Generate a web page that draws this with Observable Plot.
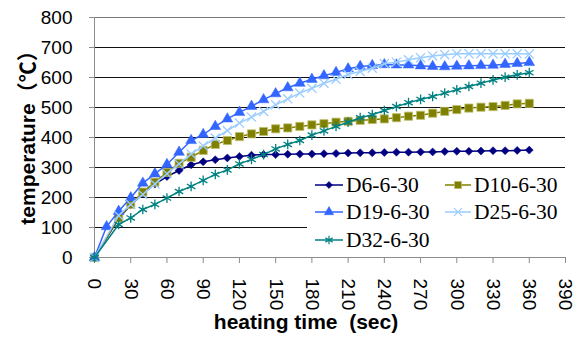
<!DOCTYPE html>
<html><head><meta charset="utf-8">
<script src="https://cdn.jsdelivr.net/npm/d3@7"></script>
<script src="https://cdn.jsdelivr.net/npm/@observablehq/plot@0.6"></script>
<style>
body{margin:0;background:#fff}
#wrap{position:relative;width:584px;height:341px;background:#fff}
#legend{position:absolute;left:307px;top:168px;width:258px;height:87px;background:#fff;font-family:"Liberation Serif","Times New Roman",serif;font-size:21.5px;color:#000}
.item{position:absolute;display:flex;align-items:center;height:26px;line-height:26px;white-space:nowrap}
.item svg{display:block;margin-right:3px}
</style></head><body><div id="wrap"></div>
<script>
// time axis (sec)
const timesD19 = [0,10,20,30,40,50,60,70,80,90,100,110,120,130,140,150,160,170,180,190,200,210,220,230,240,250,260,270,280,290,300,310,320,330,340,350,360];
const timesOther = [0,20,30,40,50,60,70,80,90,100,110,120,130,140,150,160,170,180,190,200,210,220,230,240,250,260,270,280,290,300,310,320,330,340,350,360];

// temperatures (°C)
const D6  = [0,130,175,212,245,270,290,309,319,326,332,337,341,343,343,344,345,345,346,347,348,349,349,350,351,351,352,352,353,354,354,355,356,356,357,358];
const D10 = [0,132,177,218,251,284,314,334,357,377,390,403,412,420,429,432,437,442,446,451,454,457,460,462,466,471,474,481,487,493,498,501,503,507,512,514];
const D19 = [0,103,154,199,248,279,310,351,390,410,437,462,484,504,526,546,566,581,594,606,617,629,637,640,643,642,642,639,637,636,638,639,640,641,644,647,650];
const D25 = [0,140,177,210,245,279,312,345,372,398,423,448,468,487,509,529,548,564,581,594,610,620,631,646,651,659,666,672,676,679,679,679,679,679,679,678];
const D32 = [0,110,132,160,177,198,220,237,257,277,292,312,327,343,362,377,390,408,422,437,451,466,476,490,503,516,527,537,548,559,570,581,592,601,609,616];

const seriesNames = ["D6-6-30","D10-6-30","D19-6-30","D25-6-30","D32-6-30"];
const xTicks = [0,30,60,90,120,150,180,210,240,270,300,330,360,390];
const yTicks = [0,100,200,300,400,500,600,700,800];
const xTitle = "heating time  (sec)";
const yTitle = "temperature（℃）";

const styles = [
  {color:"#000080", symbol:"diamond2", d3sym:d3.symbolDiamond2, filled:true, r:3.6},
  {color:"#808000", symbol:"square", d3sym:d3.symbolSquare, filled:true, r:4.6, edge:"#c0c070"},
  {color:"#3366FF", symbol:"triangle", d3sym:d3.symbolTriangle, filled:true, r:4.0},
  {color:"#99CCFF", symbol:"times", d3sym:d3.symbolTimes, filled:false, r:4.2},
  {color:"#008080", symbol:"asterisk", d3sym:d3.symbolAsterisk, filled:false, r:4.6}
];
const seriesData = [
  [timesOther, D6], [timesOther, D10], [timesD19, D19], [timesOther, D25], [timesOther, D32]
].map(([ts, vs], i) => ts.map((t, j) => ({t, v: vs[j], s: seriesNames[i]})));

const seriesMarks = seriesData.flatMap((rows, i) => {
  const st = styles[i];
  return [
    Plot.line(rows, {x: "t", y: "v", stroke: st.color, strokeWidth: 1.5}),
    Plot.dot(rows, {
      x: "t", y: "v", symbol: st.symbol, r: st.r,
      fill: st.filled ? st.color : "none",
      stroke: st.filled ? (st.edge || st.color) : st.color,
      strokeWidth: st.filled ? (st.edge ? 0.8 : 0.5) : 1.3
    })
  ];
});

const chart = Plot.plot({
  width: 584, height: 341,
  marginLeft: 94, marginRight: 19, marginTop: 17, marginBottom: 84,
  style: {fontFamily: "'Liberation Sans', Arial, 'Noto Sans CJK JP', sans-serif", fontSize: "19px", color: "#000", background: "#fff", overflow: "visible"},
  x: {domain: [0, 390]},
  y: {domain: [0, 800]},
  marks: [
    Plot.ruleY(yTicks.filter(d => d > 0), {y: d => d, stroke: d => d === 800 ? "#7a7a7a" : "#111", strokeWidth: 1}),
    Plot.ruleX([0], {stroke: "#8c8c8c"}),
    Plot.ruleY([0], {stroke: "#8c8c8c"}),
    Plot.axisY(yTicks, {tickSize: 5, tickPadding: 17, stroke: "#8c8c8c", label: null, fontSize: 19}),
    Plot.axisX(xTicks, {tickSize: 6, tickPadding: 15, tickRotate: 90, stroke: "#8c8c8c", label: null, fontSize: 19}),
    ...seriesMarks,
    Plot.text([xTitle], {text: d => d, frameAnchor: "bottom", textAnchor: "middle", dy: 71, dx: -24, fontWeight: "bold", fontSize: 21}),
    Plot.text([yTitle], {text: d => d, frameAnchor: "left", textAnchor: "middle", dx: -66, dy: -5, rotate: -90, fontWeight: "bold", fontSize: 21})
  ]
});

const wrap = document.getElementById("wrap");
wrap.appendChild(chart);

// legend overlay
const legend = document.createElement("div");
legend.id = "legend";
const pos = [[8, 4], [138, 4], [8, 31], [138, 31], [8, 59]];
seriesNames.forEach((name, i) => {
  const st = styles[i];
  const item = document.createElement("div");
  item.className = "item";
  item.style.left = pos[i][0] + "px";
  item.style.top = pos[i][1] + "px";
  const w = i % 2 === 0 ? 28 : 26;
  const svg = d3.create("svg").attr("width", w).attr("height", 14);
  svg.append("line").attr("x1", 0).attr("x2", w).attr("y1", 7).attr("y2", 7)
    .attr("stroke", st.color).attr("stroke-width", 1.5);
  svg.append("path")
    .attr("transform", `translate(${w/2},7)`)
    .attr("d", d3.symbol(st.d3sym, Math.PI * st.r * st.r * 0.75)())
    .attr("fill", st.filled ? st.color : "none")
    .attr("stroke", st.filled ? (st.edge || st.color) : st.color)
    .attr("stroke-width", st.filled ? 0.6 : 1.2);
  item.appendChild(svg.node());
  const span = document.createElement("span");
  span.textContent = name;
  item.appendChild(span);
  legend.appendChild(item);
});
wrap.appendChild(legend);
</script></body></html>
